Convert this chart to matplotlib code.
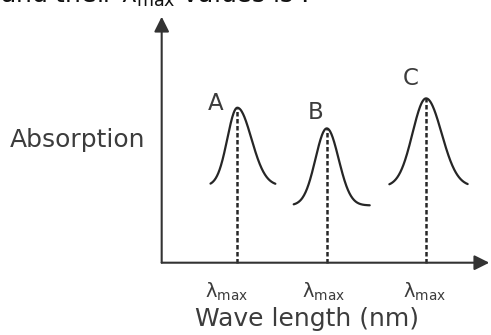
import numpy as np
import matplotlib
matplotlib.use("Agg")
import matplotlib.pyplot as plt

plt.rcParams["font.family"] = ["DejaVu Sans"]
plt.rcParams["mathtext.fontset"] = "dejavusans"

# peaks (axis units 0-100 on both axes)
peak_names = ["A", "B", "C"]
peak_x = [23.1, 50.4, 80.7]
peak_top = [63.0, 54.6, 66.8]
peak_floor = [31.3, 23.3, 31.0]
sigma_left = [3.05, 3.45, 4.12]
sigma_right = [4.27, 3.60, 4.73]
x_start = [14.9, 40.3, 69.5]
x_end = [34.7, 63.5, 93.4]

x_label = "Wave length (nm)"
y_label = "Absorption"
tick_label = r"$\mathrm{\lambda}_{\mathrm{max}}$"
header = r"and their $\mathrm{\lambda}_{\mathrm{max}}$ values is :"

# layout only (offsets in points)
name_offsets = [(-15.5, 3.4), (-8.4, 11.7), (-10.9, 14.6)]
tick_offsets = [(-7.6, -21), (-2.7, -21), (-0.9, -21)]

LINE = "#262626"
TEXT = "#3c3c3c"

fig = plt.figure(figsize=(4.91, 3.35), dpi=100)
ax = fig.add_axes([0.3293, 0.2158, 0.6672, 0.7343])
ax.set_xlim(0, 100)
ax.set_ylim(0, 100)
ax.axis("off")

arrow = dict(arrowstyle="-|>,head_length=0.6,head_width=0.3", lw=1.5,
             color="#333333", mutation_scale=15, shrinkA=0, shrinkB=0)
ax.annotate("", xy=(1, 0), xytext=(0, 0), xycoords="axes fraction", arrowprops=arrow)
ax.annotate("", xy=(0, 1), xytext=(0, 0), xycoords="axes fraction", arrowprops=arrow)

for i, name in enumerate(peak_names):
    x = np.linspace(x_start[i], x_end[i], 200)
    sig = np.where(x < peak_x[i], sigma_left[i], sigma_right[i])
    amp = peak_top[i] - peak_floor[i]
    y = peak_floor[i] + amp * np.exp(-(x - peak_x[i]) ** 2 / (2 * sig ** 2))
    ax.plot(x, y, color=LINE, lw=1.6, solid_capstyle="round", clip_on=False)
    ax.plot([peak_x[i], peak_x[i]], [0, peak_top[i]], color=LINE, lw=1.8,
            linestyle=(0, (1.8, 1.0)), clip_on=False)
    ax.annotate(name, xy=(peak_x[i], peak_top[i]), xytext=name_offsets[i],
                textcoords="offset points", ha="center", va="center",
                fontsize=16.5, color=TEXT)
    ax.annotate(tick_label, xy=(peak_x[i], 0), xytext=tick_offsets[i],
                textcoords="offset points", ha="center", va="center",
                fontsize=14, color=TEXT)

fig.text(0.626, 0.027, x_label, ha="center", va="baseline", fontsize=18, color=TEXT)
fig.text(0.0204, 0.561, y_label, ha="left", va="baseline", fontsize=18, color=TEXT)
fig.text(0.0, 0.993, header, ha="left", va="baseline", fontsize=18, color="#111111")

fig.savefig("out.png", dpi=100)
